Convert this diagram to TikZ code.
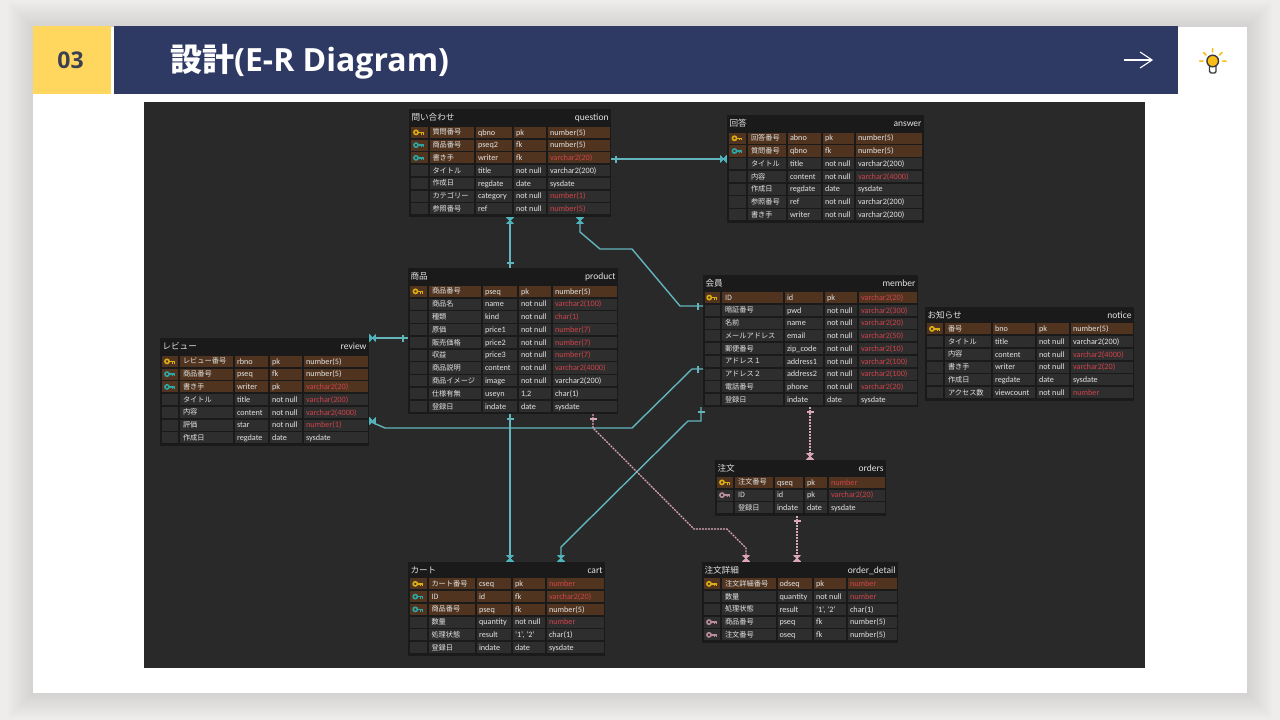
\documentclass[tikz,border=0pt]{standalone}
\usepackage{fontspec}
\setmainfont{Carlito}
\newfontfamily\jpf{Noto Sans CJK JP}
\newfontfamily\krf{Noto Sans CJK KR}
\newfontfamily\opf{Open Sans}
\usetikzlibrary{calc}
\definecolor{slidebg}{HTML}{EEEDEB}
\definecolor{navy}{HTML}{2F3A64}
\definecolor{sun}{HTML}{FFD65E}
\definecolor{numcol}{HTML}{3A3F52}
\definecolor{canvasdk}{HTML}{292929}
\definecolor{frame}{HTML}{1A1A1A}
\definecolor{cell}{HTML}{2E2E2E}
\definecolor{brown}{HTML}{50341F}
\definecolor{txt}{HTML}{E2E2E2}
\definecolor{redt}{HTML}{CF434A}
\definecolor{gold}{HTML}{DDAE14}
\definecolor{tealk}{HTML}{2BA6A4}
\definecolor{pinkk}{HTML}{B98C9C}
\definecolor{tealline}{HTML}{62B5BD}
\definecolor{tealcrow}{HTML}{4FB4BC}
\definecolor{pinkline}{HTML}{DBA7B6}
\definecolor{bulb}{HTML}{FBBC15}
\definecolor{bulbdk}{HTML}{3B3B3B}
\newcounter{rw}
\tikzset{
  tbl/.style={draw=none,fill=frame,inner sep=0pt,outer sep=0pt},
  coltxt/.style={inner sep=0pt,outer sep=0pt,anchor=base west,text=txt,font=\fontsize{8.2}{9}\selectfont},
  jptxt/.style={inner sep=0pt,outer sep=0pt,anchor=base west,text=txt,font=\jpf\fontsize{7.2}{9}\selectfont},
  ttljp/.style={inner sep=0pt,outer sep=0pt,anchor=base west,text=txt,font=\jpf\fontsize{8.6}{10}\selectfont},
  ttlen/.style={inner sep=0pt,outer sep=0pt,anchor=base east,text=txt,font=\fontsize{9.5}{10}\selectfont},
  tealrel/.style={draw=tealline,line width=1.4pt},
  pinkrel/.style={draw=pinkline,line width=1.2pt,dash pattern=on 2pt off 1pt},
  onebar/.pic={\draw[#1,line width=1.2pt] (5,-3.5)--(5,3.5);},
  crowf/.pic={\filldraw[#1,line width=.7pt,line join=round] (0.5,-3.6)--(6.5,3.4)--(6.5,-3.4)--(0.5,3.6)--cycle;},
  keyicon/.pic={\draw[#1,line width=1.6pt] (-2.8,0) circle (2.1pt);
     \draw[#1,line width=1.5pt] (-0.8,0)--(5,0);
     \draw[#1,line width=1.1pt] (2.6,0)--(2.6,2.2) (4.6,0)--(4.6,2.2);},
}
\newcommand\ersetup[8]{\def\ca{#1}\def\cb{#2}\def\cc{#3}\def\cd{#4}\def\ce{#5}\def\cf{#6}\def\rt{#7}\def\rh{#8}\setcounter{rw}{0}}
\newcommand\ertable[7]{%
  \def\tn{#1}%
  \pgfmathsetmacro\tw{#4-#2}\pgfmathsetmacro\th{#5-#3}%
  \pgfmathsetmacro\tcx{(#4+#2)/2}\pgfmathsetmacro\tcy{(#5+#3)/2}%
  \node[tbl,minimum width=\tw pt,minimum height=\th pt] (#1) at (\tcx,\tcy) {};
  \node[ttljp] (#1-jp) at (#2+2.5,#3+11.5) {#6};
  \node[ttlen] (#1-en) at (#4-2.5,#3+11.5) {#7};
}
% key, jp, column, constraint, type, colour
\newcommand\errow[6]{%
  \pgfmathsetmacro\yt{\rt+\therw*\rh}\pgfmathsetmacro\yb{\yt+\rh-1.6}\pgfmathsetmacro\ym{(\yt+\yb)/2}%
  \def\kk{#1}\def\kb{p}\def\kf{f}%
  \ifx\kk\kb\def\cfill{brown}\else\ifx\kk\kf\def\cfill{brown}\else\def\cfill{cell}\fi\fi
  \fill[\cfill] (\ca,\yt) rectangle (\cb-1.6,\yb);
  \fill[\cfill] (\cb,\yt) rectangle (\cc-1.6,\yb);
  \fill[\cfill] (\cc,\yt) rectangle (\cd-1.6,\yb);
  \fill[\cfill] (\cd,\yt) rectangle (\ce-1.6,\yb);
  \fill[\cfill] (\ce,\yt) rectangle (\cf,\yb);
  \pgfmathsetmacro\kx{(\ca+\cb)/2-1.2}%
  \def\kg{g}\def\kn{n}%
  \ifx\kk\kb \pic at (\kx,\ym) {keyicon=gold};\fi
  \ifx\kk\kf \pic at (\kx,\ym) {keyicon=tealk};\fi
  \ifx\kk\kg \pic at (\kx,\ym) {keyicon=pinkk};\fi
  \node[jptxt] (\tn-\therw-jp) at (\cb+3,\ym+2.6) {#2};
  \node[coltxt] (\tn-\therw-col) at (\cc+2,\ym+2.7) {#3};
  \node[coltxt] (\tn-\therw-con) at (\cd+2,\ym+2.7) {#4};
  \node[coltxt,text=#6] (\tn-\therw-typ) at (\ce+2,\ym+2.7) {#5};
  \stepcounter{rw}%
}
\begin{document}
\begin{tikzpicture}[x=1pt,y=-1pt]
\useasboundingbox (0,0) rectangle (1280,720);
\fill[slidebg] (0,0) rectangle (1280,720);
% soft shadow round the card
\foreach \s in {1,...,26}{\fill[black,opacity=.0035] (33-\s,27-\s) rectangle (1247+\s,693+\s);}
\fill[white] (33,27) rectangle (1247,693);
% header
\fill[sun] (33,26) rectangle (111,94);
\fill[navy] (114,26) rectangle (1178,94);
\node[inner sep=0pt,text=numcol,font=\opf\bfseries\fontsize{23}{26}\selectfont] (num) at (70.5,60.5) {03};
\node[inner sep=0pt,anchor=base west,text=white,font=\fontsize{32}{36}\selectfont] (title) at (170,71) {{\krf\bfseries 設計}{\opf\bfseries (E-R Diagram)}};
\coordinate (arrA) at (1124,60);
\coordinate (arrB) at (1152,60);
\draw[white,line width=1.1pt] (arrA) -- (arrB);
\draw[white,line width=1.1pt] (1140,52) -- (arrB) -- (1140,68);
% bulb
\draw[bulb,line width=1.5pt,line cap=round] (1212.7,48.5)--(1212.7,52) (1203.5,52.5)--(1206,55) (1222,52.5)--(1219.5,55) (1199.5,61)--(1203,61) (1222.5,61)--(1226,61);
\draw[bulbdk,line width=1.4pt,fill=white,rounded corners=1.5pt] (1209.5,65)--(1209.5,73)--(1216,73)--(1216,65)--cycle;
\draw[bulbdk,line width=1.4pt,fill=bulb] (1212.7,61) circle (5.8pt);
% diagram canvas
\fill[canvasdk] (144,102) rectangle (1145,668);

% tables
\ertable{question}{409}{109}{611}{217}{問い合わせ}{question}
\ersetup{410.5}{429.5}{476}{514}{548}{610}{126.8}{12.75}
\errow{p}{質問番号}{qbno}{pk}{number(5)}{txt}
\errow{f}{商品番号}{pseq2}{fk}{number(5)}{txt}
\errow{f}{書き手}{writer}{fk}{varchar2(20)}{redt}
\errow{n}{タイトル}{title}{not null}{varchar2(200)}{txt}
\errow{n}{作成日}{regdate}{date}{sysdate}{txt}
\errow{n}{カテゴリー}{category}{not null}{number(1)}{redt}
\errow{n}{参照番号}{ref}{not null}{number(5)}{redt}

\ertable{answer}{727}{115}{924}{223}{回答}{answer}
\ersetup{729}{748}{788}{823}{856}{922}{132.7}{12.75}
\errow{p}{回答番号}{abno}{pk}{number(5)}{txt}
\errow{f}{質問番号}{qbno}{fk}{number(5)}{txt}
\errow{n}{タイトル}{title}{not null}{varchar2(200)}{txt}
\errow{n}{内容}{content}{not null}{varchar2(4000)}{redt}
\errow{n}{作成日}{regdate}{date}{sysdate}{txt}
\errow{n}{参照番号}{ref}{not null}{varchar2(200)}{txt}
\errow{n}{書き手}{writer}{not null}{varchar2(200)}{txt}

\ertable{product}{408}{268}{618}{414}{商品}{product}
\ersetup{410}{429}{483}{519}{553}{616.5}{285.8}{12.78}
\errow{p}{商品番号}{pseq}{pk}{number(5)}{txt}
\errow{n}{商品名}{name}{not null}{varchar2(100)}{redt}
\errow{n}{種類}{kind}{not null}{char(1)}{redt}
\errow{n}{原価}{price1}{not null}{number(7)}{redt}
\errow{n}{販売価格}{price2}{not null}{number(7)}{redt}
\errow{n}{収益}{price3}{not null}{number(7)}{redt}
\errow{n}{商品説明}{content}{not null}{varchar2(4000)}{redt}
\errow{n}{商品イメージ}{image}{not null}{varchar2(200)}{txt}
\errow{n}{仕様有無}{useyn}{1,2}{char(1)}{txt}
\errow{n}{登録日}{indate}{date}{sysdate}{txt}

\ertable{member}{703}{275}{918}{407}{会員}{member}
\ersetup{704.5}{722}{785}{825}{859}{916.5}{292}{12.75}
\errow{p}{ID}{id}{pk}{varchar2(20)}{redt}
\errow{n}{暗証番号}{pwd}{not null}{varchar2(300)}{redt}
\errow{n}{名前}{name}{not null}{varchar2(20)}{redt}
\errow{n}{メールアドレス}{email}{not null}{varchar2(50)}{redt}
\errow{n}{郵便番号}{zip\_code}{not null}{varchar2(10)}{redt}
\errow{n}{アドレス１}{address1}{not null}{varchar2(100)}{redt}
\errow{n}{アドレス２}{address2}{not null}{varchar2(100)}{redt}
\errow{n}{電話番号}{phone}{not null}{varchar2(20)}{redt}
\errow{n}{登録日}{indate}{date}{sysdate}{txt}

\ertable{notice}{925}{307}{1134}{401}{お知らせ}{notice}
\ersetup{927}{945}{993}{1037}{1071}{1132.5}{323.3}{12.75}
\errow{p}{番号}{bno}{pk}{number(5)}{txt}
\errow{n}{タイトル}{title}{not null}{varchar2(200)}{txt}
\errow{n}{内容}{content}{not null}{varchar2(4000)}{redt}
\errow{n}{書き手}{writer}{not null}{varchar2(20)}{redt}
\errow{n}{作成日}{regdate}{date}{sysdate}{txt}
\errow{n}{アクセス数}{viewcount}{not null}{number}{redt}

\ertable{review}{160}{338}{369}{446}{レビュー}{review}
\ersetup{162}{180}{235}{270}{304}{367.5}{355.8}{12.75}
\errow{p}{レビュー番号}{rbno}{pk}{number(5)}{txt}
\errow{f}{商品番号}{pseq}{fk}{number(5)}{txt}
\errow{f}{書き手}{writer}{pk}{varchar2(20)}{redt}
\errow{n}{タイトル}{title}{not null}{varchar(200)}{redt}
\errow{n}{内容}{content}{not null}{varchar2(4000)}{redt}
\errow{n}{評価}{star}{not null}{number(1)}{redt}
\errow{n}{作成日}{regdate}{date}{sysdate}{txt}

\ertable{cart}{408}{562}{605}{656}{カート}{cart}
\ersetup{410}{428.5}{477}{513}{547}{603.5}{578.3}{12.75}
\errow{p}{カート番号}{cseq}{pk}{number}{redt}
\errow{f}{ID}{id}{fk}{varchar2(20)}{redt}
\errow{f}{商品番号}{pseq}{fk}{number(5)}{txt}
\errow{n}{数量}{quantity}{not null}{number}{redt}
\errow{n}{処理状態}{result}{'1', '2'}{char(1)}{txt}
\errow{n}{登録日}{indate}{date}{sysdate}{txt}

\ertable{orderdetail}{702}{562}{898}{643}{注文詳細}{order\_detail}
\ersetup{704}{722}{777.5}{814}{848}{896.5}{578.3}{12.75}
\errow{p}{注文詳細番号}{odseq}{pk}{number}{redt}
\errow{n}{数量}{quantity}{not null}{number}{redt}
\errow{n}{処理状態}{result}{'1', '2'}{char(1)}{txt}
\errow{g}{商品番号}{pseq}{fk}{number(5)}{txt}
\errow{g}{注文番号}{oseq}{fk}{number(5)}{txt}

\ertable{orders}{715}{460}{886}{516}{注文}{orders}
\ersetup{717}{735}{775}{805}{829}{884.5}{476.8}{12.75}
\errow{p}{注文番号}{qseq}{pk}{number}{redt}
\errow{g}{ID}{id}{pk}{varchar2(20)}{redt}
\errow{n}{登録日}{indate}{date}{sysdate}{txt}

% connector end points on the table edges
\coordinate (qAnsA) at ($(question.north east)+(0,50)$);
\coordinate (qAnsB) at ($(answer.north west)+(0,44)$);
\coordinate (qProA) at ($(question.south west)+(101,0)$);
\coordinate (qProB) at ($(product.north west)+(102,0)$);
\coordinate (qMemA) at ($(question.south west)+(171,0)$);
\coordinate (qMemB) at ($(member.north west)+(0,31)$);
\coordinate (rPrA) at ($(review.north east)+(0,0)$);
\coordinate (rPrB) at ($(product.north west)+(0,70)$);
\coordinate (rMeA) at ($(review.north east)+(0,83)$);
\coordinate (rMeB) at ($(member.north west)+(0,94)$);
\coordinate (pCaA) at ($(product.south west)+(102,0)$);
\coordinate (pCaB) at ($(cart.north west)+(102,0)$);
\coordinate (mCaA) at ($(member.south west)+(-2,0)$);
\coordinate (mCaB) at ($(cart.north west)+(153,0)$);
\coordinate (pOdA) at ($(product.south west)+(185,0)$);
\coordinate (pOdB) at ($(orderdetail.north west)+(44,0)$);
\coordinate (mOrA) at ($(member.south west)+(107,0)$);
\coordinate (mOrB) at ($(orders.north west)+(95,0)$);
\coordinate (oOdA) at ($(orders.south west)+(82,0)$);
\coordinate (oOdB) at ($(orderdetail.north west)+(95,0)$);

% connectors
\draw[tealrel] (qAnsA) -- (qAnsB);
\draw[tealrel] (qProA) -- (qProB);
\draw[tealrel] (qMemA) -- (580,232) -- (600,249) -- (632,249) -- (680,306) -- (qMemB);
\draw[tealrel] (rPrA) -- (rPrB);
\draw[tealrel] (rMeA) -- (385,428) -- (632,428) -- (692,369) -- (rMeB);
\draw[tealrel] (pCaA) -- (pCaB);
\draw[tealrel] (mCaA) -- (701,421) -- (688,421) -- (561,547) -- (mCaB);
\draw[pinkrel] (pOdA) -- (593,428) -- (694,529) -- (727,529) -- (746,548) -- (pOdB);
\draw[pinkrel] (mOrA) -- (mOrB);
\draw[pinkrel] (oOdA) -- (oOdB);

% ends
\pic at (qAnsA) {onebar=tealline};
\pic[rotate=180] at (qAnsB) {crowf=tealcrow};
\pic[rotate=270] at (qProA) {crowf=tealcrow};
\pic[rotate=90] at (qProB) {onebar=tealline};
\pic[rotate=270] at (qMemA) {crowf=tealcrow};
\pic[rotate=180] at (qMemB) {onebar=tealline};
\pic at (rPrA) {crowf=tealcrow};
\pic[rotate=180] at (rPrB) {onebar=tealline};
\pic at (rMeA) {crowf=tealcrow};
\pic[rotate=180] at (rMeB) {onebar=tealline};
\pic[rotate=270] at (pCaA) {onebar=tealline};
\pic[rotate=90] at (pCaB) {crowf=tealcrow};
\pic[rotate=270] at (mCaA) {onebar=tealline};
\pic[rotate=90] at (mCaB) {crowf=tealcrow};
\pic[rotate=270] at (pOdA) {onebar=pinkline};
\pic[rotate=90] at (pOdB) {crowf=pinkline};
\pic[rotate=270] at (mOrA) {onebar=pinkline};
\pic[rotate=90] at (mOrB) {crowf=pinkline};
\pic[rotate=270] at (oOdA) {onebar=pinkline};
\pic[rotate=90] at (oOdB) {crowf=pinkline};
\end{tikzpicture}
\end{document}
